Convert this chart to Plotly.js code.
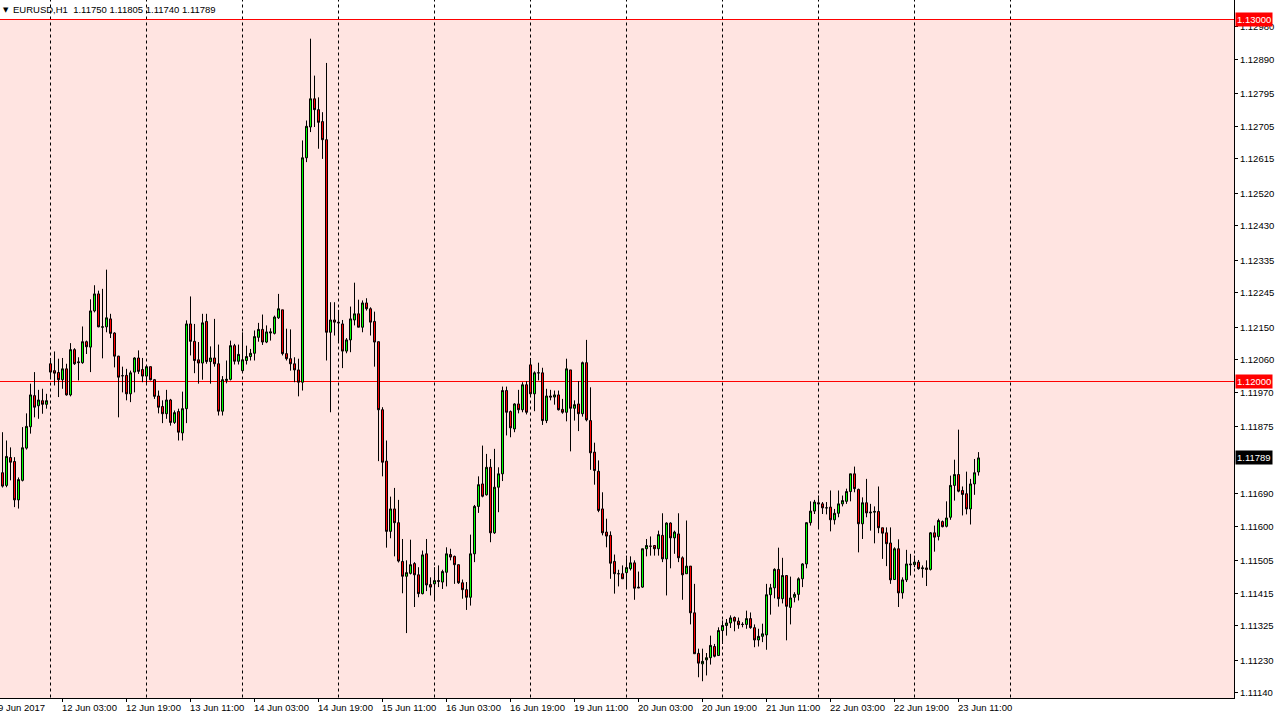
<!DOCTYPE html>
<html>
<head>
<meta charset="utf-8">
<script src="https://cdn.plot.ly/plotly-3.0.1.min.js"></script>
<style>
  html, body { margin: 0; padding: 0; background: #ffffff; }
  #chart { width: 1275px; height: 718px; }
</style>
</head>
<body>
<div id="chart"></div>
<script>
// ---- DATA (EURUSD H1, bars from 9 Jun 2017 12:00 to 23 Jun 2017 16:00) ----
const candleOpen = [
  1.11748,1.11713,1.11790,1.11779,1.11673,1.11727,1.11816,1.11875,1.11961,1.11933,
  1.11947,1.11937,1.12049,1.12030,1.12025,1.12005,1.12035,1.11963,1.12088,1.12052,
  1.12052,1.12110,1.12095,1.12195,1.12242,1.12150,1.12151,1.12173,1.12134,1.12070,
  1.12016,1.12017,1.11966,1.12026,1.12065,1.12033,1.12015,1.12041,1.12005,1.11960,
  1.11931,1.11911,1.11949,1.11887,1.11917,1.11858,1.11925,1.12159,1.12111,1.12060,
  1.12051,1.12166,1.12055,1.12065,1.12049,1.11918,1.12003,1.12006,1.12099,1.12056,
  1.12030,1.12058,1.12069,1.12078,1.12122,1.12144,1.12109,1.12134,1.12133,1.12176,
  1.12198,1.12077,1.12063,1.12049,1.12032,1.11998,1.12618,1.12703,1.12781,1.12751,
  1.12718,1.12668,1.12136,1.12170,1.12164,1.12159,1.12084,1.12115,1.12170,1.12187,
  1.12150,1.12217,1.12201,1.12166,1.12110,1.11922,1.11780,1.11586,1.11648,1.11610,
  1.11503,1.11462,1.11470,1.11497,1.11466,1.11414,1.11524,1.11439,1.11441,1.11450,
  1.11446,1.11473,1.11522,1.11517,1.11494,1.11444,1.11425,1.11404,1.11524,1.11655,
  1.11717,1.11687,1.11763,1.11582,1.11708,1.11745,1.11975,1.11917,1.11869,1.11938,
  1.11922,1.11991,1.12046,1.11966,1.12024,1.12024,1.11892,1.11960,1.11957,1.11963,
  1.11923,1.11915,1.12032,1.11926,1.11938,1.11911,1.12052,1.11892,1.11805,1.11752,
  1.11648,1.11584,1.11575,1.11503,1.11469,1.11469,1.11472,1.11483,1.11499,1.11432,
  1.11432,1.11538,1.11545,1.11547,1.11538,1.11575,1.11510,1.11609,1.11568,1.11579,
  1.11513,1.11469,1.11490,1.11361,1.11249,1.11220,1.11231,1.11237,1.11268,1.11243,
  1.11312,1.11326,1.11333,1.11348,1.11338,1.11329,1.11329,1.11345,1.11320,1.11286,
  1.11296,1.11300,1.11411,1.11430,1.11481,1.11400,1.11464,1.11376,1.11404,1.11412,
  1.11455,1.11496,1.11610,1.11642,1.11665,1.11662,1.11651,1.11653,1.11618,1.11636,
  1.11662,1.11669,1.11696,1.11745,1.11702,1.11607,1.11665,1.11637,1.11639,1.11641,
  1.11596,1.11582,1.11554,1.11453,1.11538,1.11416,1.11452,1.11496,1.11494,1.11501,
  1.11483,1.11485,1.11481,1.11582,1.11572,1.11613,1.11600,1.11625,1.11713,1.11743,
  1.11699,1.11690,1.11648,1.11717,1.11750
];
const candleHigh = [
  1.11860,1.11837,1.11818,1.11791,1.11735,1.11874,1.11912,1.11994,1.12026,1.11977,
  1.11980,1.11966,1.12065,1.12083,1.12063,1.12065,1.12049,1.12106,1.12092,1.12067,
  1.12152,1.12113,1.12227,1.12266,1.12251,1.12256,1.12309,1.12187,1.12136,1.12071,
  1.12041,1.12035,1.12030,1.12067,1.12086,1.12065,1.12044,1.12041,1.12007,1.11975,
  1.11948,1.11977,1.11952,1.11920,1.11925,1.11972,1.12169,1.12235,1.12159,1.12109,
  1.12187,1.12187,1.12097,1.12173,1.12102,1.12015,1.12058,1.12113,1.12104,1.12102,
  1.12136,1.12099,1.12090,1.12141,1.12162,1.12185,1.12155,1.12147,1.12182,1.12242,
  1.12198,1.12146,1.12144,1.12067,1.12063,1.12666,1.12721,1.12947,1.12845,1.12785,
  1.12744,1.12880,1.12219,1.12219,1.12198,1.12170,1.12120,1.12207,1.12273,1.12226,
  1.12224,1.12230,1.12205,1.12193,1.12110,1.11929,1.11837,1.11682,1.11706,1.11673,
  1.11565,1.11506,1.11563,1.11501,1.11487,1.11533,1.11565,1.11459,1.11487,1.11492,
  1.11480,1.11542,1.11538,1.11519,1.11494,1.11453,1.11446,1.11577,1.11659,1.11738,
  1.11823,1.11800,1.11786,1.11814,1.11763,1.11986,1.11986,1.11920,1.11940,1.11977,
  1.11998,1.12001,1.12065,1.12028,1.12052,1.12038,1.11980,1.11977,1.11975,1.11975,
  1.11952,1.12063,1.12032,1.11948,1.12001,1.12055,1.12115,1.11984,1.11831,1.11782,
  1.11694,1.11621,1.11586,1.11522,1.11480,1.11492,1.11519,1.11517,1.11506,1.11475,
  1.11538,1.11565,1.11572,1.11547,1.11588,1.11636,1.11611,1.11611,1.11588,1.11636,
  1.11517,1.11616,1.11490,1.11441,1.11262,1.11262,1.11250,1.11298,1.11275,1.11321,
  1.11340,1.11344,1.11354,1.11351,1.11348,1.11335,1.11367,1.11362,1.11329,1.11317,
  1.11331,1.11441,1.11441,1.11484,1.11541,1.11513,1.11464,1.11461,1.11418,1.11459,
  1.11498,1.11611,1.11669,1.11673,1.11685,1.11667,1.11667,1.11699,1.11648,1.11699,
  1.11685,1.11704,1.11745,1.11765,1.11704,1.11680,1.11731,1.11662,1.11655,1.11710,
  1.11596,1.11597,1.11597,1.11542,1.11564,1.11459,1.11535,1.11524,1.11519,1.11507,
  1.11492,1.11506,1.11584,1.11602,1.11621,1.11616,1.11669,1.11740,1.11784,1.11867,
  1.11710,1.11751,1.11731,1.11786,1.11805
];
const candleLow = [
  1.11707,1.11708,1.11727,1.11653,1.11649,1.11724,1.11812,1.11856,1.11901,1.11897,
  1.11911,1.11925,1.12007,1.11989,1.11957,1.11980,1.11961,1.11959,1.12046,1.12003,
  1.12049,1.12076,1.12026,1.12191,1.12150,1.12064,1.12136,1.12120,1.12039,1.11901,
  1.11970,1.11948,1.11943,1.11970,1.12021,1.11998,1.11994,1.12003,1.11952,1.11912,
  1.11885,1.11897,1.11878,1.11883,1.11837,1.11837,1.11885,1.12072,1.12023,1.11994,
  1.12005,1.12049,1.11994,1.12041,1.11906,1.11906,1.11995,1.12003,1.12047,1.12047,
  1.12026,1.12047,1.12058,1.12058,1.12110,1.12101,1.12106,1.12113,1.12130,1.12173,
  1.12072,1.12058,1.12030,1.11998,1.11959,1.11975,1.12606,1.12689,1.12703,1.12643,
  1.12615,1.12058,1.11915,1.12127,1.12108,1.12037,1.12078,1.12081,1.12155,1.12150,
  1.12136,1.12196,1.12127,1.12041,1.11780,1.11738,1.11541,1.11567,1.11517,1.11500,
  1.11415,1.11305,1.11467,1.11377,1.11404,1.11412,1.11421,1.11409,1.11397,1.11432,
  1.11427,1.11434,1.11506,1.11441,1.11441,1.11400,1.11369,1.11381,1.11501,1.11637,
  1.11680,1.11685,1.11556,1.11579,1.11639,1.11725,1.11851,1.11846,1.11860,1.11912,
  1.11915,1.11909,1.11961,1.11918,1.12003,1.11880,1.11885,1.11948,1.11936,1.11920,
  1.11911,1.11890,1.11807,1.11892,1.11863,1.11903,1.11890,1.11756,1.11715,1.11639,
  1.11575,1.11542,1.11455,1.11414,1.11434,1.11455,1.11430,1.11478,1.11397,1.11430,
  1.11430,1.11517,1.11519,1.11519,1.11519,1.11501,1.11409,1.11484,1.11524,1.11501,
  1.11397,1.11469,1.11329,1.11248,1.11183,1.11172,1.11188,1.11218,1.11238,1.11243,
  1.11275,1.11298,1.11319,1.11310,1.11317,1.11321,1.11317,1.11317,1.11266,1.11268,
  1.11280,1.11259,1.11356,1.11401,1.11378,1.11387,1.11285,1.11329,1.11390,1.11395,
  1.11432,1.11484,1.11602,1.11634,1.11596,1.11634,1.11633,1.11586,1.11605,1.11625,
  1.11655,1.11662,1.11669,1.11694,1.11528,1.11565,1.11625,1.11588,1.11553,1.11581,
  1.11510,1.11490,1.11441,1.11452,1.11377,1.11400,1.11446,1.11464,1.11487,1.11480,
  1.11458,1.11435,1.11478,1.11530,1.11561,1.11597,1.11597,1.11618,1.11671,1.11694,
  1.11630,1.11633,1.11605,1.11687,1.11740
];
const candleClose = [
  1.11711,1.11793,1.11777,1.11673,1.11729,1.11817,1.11876,1.11963,1.11929,1.11949,
  1.11937,1.11947,1.12026,1.12023,1.12005,1.12035,1.11963,1.12088,1.12049,1.12054,
  1.12110,1.12096,1.12195,1.12242,1.12151,1.12151,1.12176,1.12133,1.12070,1.12012,
  1.12016,1.11966,1.12024,1.12065,1.12028,1.12015,1.12041,1.12005,1.11959,1.11929,
  1.11911,1.11949,1.11887,1.11914,1.11860,1.11925,1.12159,1.12111,1.12058,1.12051,
  1.12162,1.12055,1.12065,1.12049,1.11918,1.12005,1.12006,1.12099,1.12056,1.12075,
  1.12060,1.12069,1.12078,1.12124,1.12144,1.12109,1.12137,1.12137,1.12178,1.12201,
  1.12077,1.12063,1.12049,1.12032,1.11998,1.12618,1.12705,1.12781,1.12751,1.12716,
  1.12668,1.12136,1.12170,1.12164,1.12162,1.12084,1.12115,1.12173,1.12187,1.12150,
  1.12217,1.12201,1.12164,1.12109,1.11922,1.11777,1.11586,1.11648,1.11610,1.11504,
  1.11462,1.11472,1.11494,1.11466,1.11414,1.11521,1.11438,1.11432,1.11450,1.11448,
  1.11475,1.11524,1.11515,1.11494,1.11444,1.11425,1.11404,1.11524,1.11655,1.11715,
  1.11683,1.11763,1.11582,1.11708,1.11745,1.11975,1.11915,1.11872,1.11938,1.11922,
  1.11991,1.11915,1.11966,1.12024,1.12024,1.11892,1.11960,1.11957,1.11963,1.11922,
  1.11915,1.12035,1.11926,1.11936,1.11911,1.12052,1.11894,1.11803,1.11754,1.11644,
  1.11582,1.11573,1.11498,1.11469,1.11469,1.11455,1.11486,1.11499,1.11429,1.11430,
  1.11538,1.11547,1.11545,1.11538,1.11577,1.11510,1.11609,1.11568,1.11584,1.11513,
  1.11466,1.11490,1.11361,1.11248,1.11222,1.11227,1.11237,1.11271,1.11241,1.11312,
  1.11326,1.11333,1.11347,1.11338,1.11328,1.11329,1.11345,1.11320,1.11286,1.11296,
  1.11303,1.11411,1.11430,1.11481,1.11400,1.11464,1.11379,1.11402,1.11412,1.11455,
  1.11496,1.11610,1.11642,1.11667,1.11662,1.11651,1.11651,1.11618,1.11636,1.11662,
  1.11671,1.11696,1.11745,1.11704,1.11607,1.11665,1.11637,1.11639,1.11641,1.11596,
  1.11581,1.11552,1.11452,1.11538,1.11416,1.11452,1.11496,1.11494,1.11501,1.11483,
  1.11485,1.11481,1.11582,1.11570,1.11616,1.11599,1.11623,1.11713,1.11743,1.11697,
  1.11688,1.11648,1.11717,1.11748,1.11789
];

// time-axis labels (bar index -> label)
const timeLabelBars = [-1, 15, 31, 47, 63, 79, 95, 111, 127, 143, 159, 175, 191, 207, 223, 239];
const timeLabelText = ['9 Jun 2017','12 Jun 03:00','12 Jun 19:00','13 Jun 11:00','14 Jun 03:00',
  '14 Jun 19:00','15 Jun 11:00','16 Jun 03:00','16 Jun 19:00','19 Jun 11:00','20 Jun 03:00',
  '20 Jun 19:00','21 Jun 11:00','22 Jun 03:00','22 Jun 19:00','23 Jun 11:00'];
// day separators (bar index of 00:00 of each day)
const daySeparatorBars = [12, 36, 60, 84, 108, 132, 156, 180, 204, 228, 252];
// price scale labels
const priceTicks = [1.12980, 1.12890, 1.12795, 1.12705, 1.12615, 1.12520, 1.12430, 1.12335,
  1.12245, 1.12150, 1.12060, 1.11970, 1.11875, 1.11690, 1.11600, 1.11505, 1.11415,
  1.11325, 1.11230, 1.11140];
// horizontal price levels
const levelTop = 1.13000;
const levelMid = 1.12000;
const symbolTitle = 'EURUSD,H1';
const lastBar = { open: 1.11750, high: 1.11805, low: 1.11740, close: 1.11789 };

// ---- BUILD ----
const barIdx = candleOpen.map((_, i) => i);
const FONT = 'Liberation Sans, Arial, sans-serif';
const fmt = v => v.toFixed(5);
const X_RANGE = [-0.625, 307.875];
const Y_RANGE = [1.111257, 1.130539];

const trace = {
  type: 'candlestick',
  x: barIdx,
  open: candleOpen, high: candleHigh, low: candleLow, close: candleClose,
  increasing: { line: { color: '#000000', width: 1 }, fillcolor: '#00ff00' },
  decreasing: { line: { color: '#000000', width: 1 }, fillcolor: '#ff0000' },
  whiskerwidth: 0,
  hoverinfo: 'skip',
  showlegend: false
};

const shapes = [];
// background band from the 1.13000 level down
shapes.push({ type: 'rect', xref: 'x', yref: 'y', x0: -50, x1: 400, y0: 1.10, y1: levelTop,
  fillcolor: '#ffe4e1', line: { width: 0 }, layer: 'below' });
daySeparatorBars.forEach(b => shapes.push({ type: 'line', xref: 'x', yref: 'y',
  x0: b, x1: b, y0: 1.10, y1: 1.14, line: { color: '#000000', width: 1, dash: '3px,3px' }, layer: 'below' }));
[levelTop, levelMid].forEach(v => shapes.push({ type: 'line', xref: 'x', yref: 'y',
  x0: -50, x1: 400, y0: v, y1: v, line: { color: '#ff0000', width: 1 }, layer: 'below' }));

const annotations = [];
timeLabelBars.forEach((b, i) => annotations.push({
  xref: 'x', yref: 'paper', x: Math.max(b, X_RANGE[0]), y: 0, xanchor: 'left', yanchor: 'top',
  xshift: b < X_RANGE[0] ? (b - X_RANGE[0]) * 4 - 3 : -3, yshift: -2,
  text: timeLabelText[i], showarrow: false, font: { family: FONT, size: 9.5, color: '#000000' }
}));
const boxLabel = (v, bg) => ({
  xref: 'paper', yref: 'y', x: 1, y: v, xanchor: 'left', yanchor: 'middle', xshift: 1,
  text: fmt(v), showarrow: false, bgcolor: bg, borderpad: 1,
  font: { family: FONT, size: 9.5, color: '#ffffff' }
});
annotations.push(boxLabel(levelTop, '#ff0000'));
annotations.push(boxLabel(levelMid, '#ff0000'));
annotations.push(boxLabel(lastBar.close, '#000000'));
annotations.push({ xref: 'paper', yref: 'paper', x: 0, y: 1, xanchor: 'left', yanchor: 'top',
  xshift: 1, yshift: -4, text: '▼', showarrow: false, font: { family: 'DejaVu Sans', size: 7, color: '#000000' } });
annotations.push({ xref: 'paper', yref: 'paper', x: 0, y: 1, xanchor: 'left', yanchor: 'top',
  xshift: 11, yshift: -2,
  text: symbolTitle + '&nbsp; ' + [lastBar.open, lastBar.high, lastBar.low, lastBar.close].map(fmt).join(' '),
  showarrow: false, font: { family: FONT, size: 9.5, color: '#000000' } });

const layout = {
  width: 1275, height: 718,
  margin: { l: 0, r: 41, t: 0, b: 20, pad: 0 },
  paper_bgcolor: '#ffffff', plot_bgcolor: '#ffffff',
  showlegend: false, hovermode: false,
  boxgap: 0.5, boxgroupgap: 0,
  xaxis: {
    range: X_RANGE, showgrid: false, zeroline: false, showticklabels: false,
    tickmode: 'array', tickvals: timeLabelBars, ticks: 'outside', ticklen: 3, tickwidth: 1, tickcolor: '#000000',
    showline: true, linecolor: '#000000', linewidth: 1, rangeslider: { visible: false }, fixedrange: true
  },
  yaxis: {
    side: 'right', range: Y_RANGE, showgrid: false, zeroline: false,
    tickmode: 'array', tickvals: priceTicks, ticktext: priceTicks.map(fmt),
    ticks: 'outside', ticklen: 3, tickwidth: 1, tickcolor: '#000000',
    tickfont: { family: FONT, size: 9.5, color: '#000000' },
    showline: true, linecolor: '#000000', linewidth: 1, fixedrange: true
  },
  shapes: shapes,
  annotations: annotations
};

Plotly.newPlot('chart', [trace], layout, { displayModeBar: false, staticPlot: true });
</script>
</body>
</html>
